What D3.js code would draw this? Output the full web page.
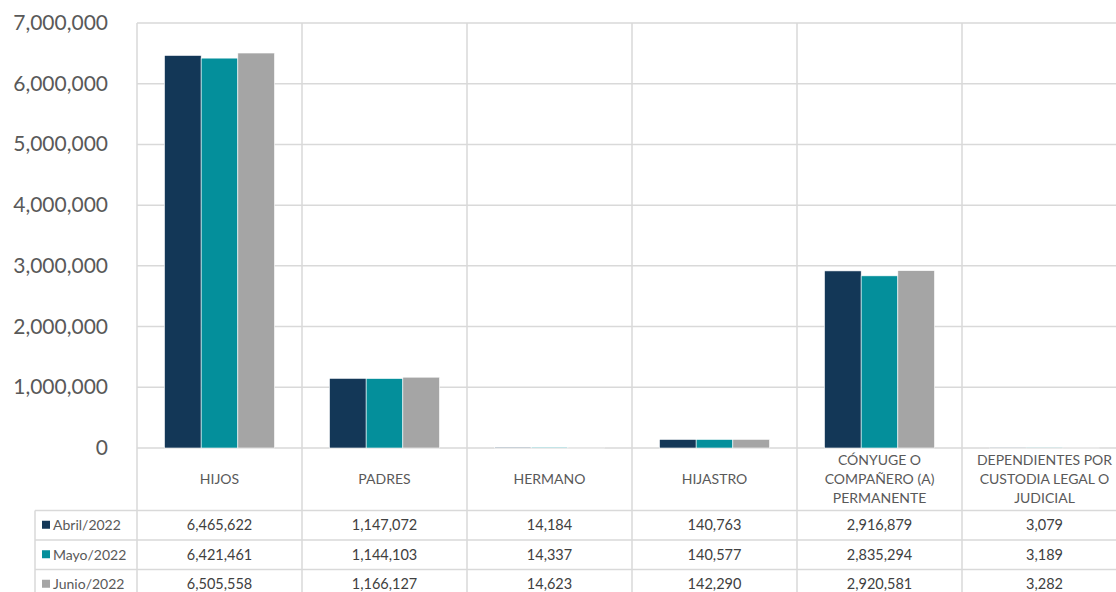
<!DOCTYPE html>
<html>
<head>
<meta charset="utf-8">
<script src="https://cdn.jsdelivr.net/npm/d3@7"></script>
<style>
  html, body { margin: 0; padding: 0; background: #fff; }
  svg { display: block; font-family: Lato, "Open Sans", sans-serif; }
</style>
</head>
<body>
<svg id="chart"></svg>
<script>
const CATEGORIES = ['HIJOS', 'PADRES', 'HERMANO', 'HIJASTRO',
  'CÓNYUGE O COMPAÑERO (A) PERMANENTE', 'DEPENDIENTES POR CUSTODIA LEGAL O JUDICIAL']
const SERIES = ['Abril/2022', 'Mayo/2022', 'Junio/2022']
const ABRIL = [6465622, 1147072, 14184, 140763, 2916879, 3079]
const MAYO = [6421461, 1144103, 14337, 140577, 2835294, 3189]
const JUNIO = [6505558, 1166127, 14623, 142290, 2920581, 3282]
const Y_TICKS = [0, 1000000, 2000000, 3000000, 4000000, 5000000, 6000000, 7000000]
const COLORS = ['#133757', '#048f9b', '#a5a5a5']

const width = 1116, height = 592
const plotLeft = 137, plotTop = 23, plotBottom = 448
const colW = 165
const tableLeft = 35
const labelBottom = 510.5
const rowH = 29.5
const grid = '#d9d9d9'

const values = [ABRIL, MAYO, JUNIO]

const svg = d3.select('#chart').attr('width', width).attr('height', height)

const x0 = d3.scaleBand()
  .domain(CATEGORIES)
  .range([plotLeft, plotLeft + colW * CATEGORIES.length])
  .padding(0)

const x1 = d3.scaleBand()
  .domain(SERIES)
  .range([0, x0.bandwidth()])
  .paddingInner(0)
  .paddingOuter(0.75)

const y = d3.scaleLinear().domain([0, 7000000]).range([plotBottom, plotTop])

// horizontal gridlines
svg.append('g').selectAll('line').data(Y_TICKS).enter().append('line')
  .attr('x1', plotLeft).attr('x2', width + 20)
  .attr('y1', d => y(d)).attr('y2', d => y(d))
  .attr('stroke', grid).attr('stroke-width', 1.5)

// y labels
svg.append('g').selectAll('text').data(Y_TICKS).enter().append('text')
  .attr('x', 108).attr('y', d => y(d) + 7)
  .attr('text-anchor', 'end')
  .attr('font-size', 21)
  .attr('fill', '#595959')
  .text(d => d3.format(',')(d))

// vertical separators (plot + labels + table)
const seps = CATEGORIES.map(c => x0(c)).concat([x0.range()[1]])
svg.append('g').selectAll('line').data(seps).enter().append('line')
  .attr('x1', d => d).attr('x2', d => d)
  .attr('y1', plotTop).attr('y2', height + 10)
  .attr('stroke', grid).attr('stroke-width', 1.5)

// table rows
const rowLines = d3.range(SERIES.length + 1).map(i => labelBottom + i * rowH)
svg.append('g').selectAll('line').data(rowLines).enter().append('line')
  .attr('x1', tableLeft).attr('x2', width + 20)
  .attr('y1', d => d).attr('y2', d => d)
  .attr('stroke', grid).attr('stroke-width', 1.5)
svg.append('line')
  .attr('x1', tableLeft).attr('x2', tableLeft)
  .attr('y1', labelBottom).attr('y2', height + 10)
  .attr('stroke', grid).attr('stroke-width', 1.5)

// bars
const groups = svg.append('g').selectAll('g').data(CATEGORIES).enter().append('g')
  .attr('transform', d => 'translate(' + x0(d) + ',0)')
groups.selectAll('rect')
  .data((c, i) => SERIES.map((s, j) => ({ s: s, v: values[j][i], j: j })))
  .enter().append('rect')
    .attr('x', d => x1(d.s))
    .attr('width', x1.bandwidth())
    .attr('y', d => y(d.v))
    .attr('height', d => y(0) - y(d.v))
    .attr('fill', d => COLORS[d.j])
    .attr('stroke', '#ffffff').attr('stroke-width', 0.6)

// category labels, wrapped
const lineH = 19
const catText = svg.append('g').selectAll('text').data(CATEGORIES).enter().append('text')
  .attr('text-anchor', 'middle')
  .attr('font-size', 14)
  .attr('fill', '#595959')
catText.each(function(d) {
  const t = d3.select(this)
  const words = d.split(' ')
  const lines = []
  let cur = []
  const probe = t.append('tspan')
  for (const w of words) {
    probe.text(cur.concat([w]).join(' '))
    if (cur.length && probe.node().getComputedTextLength() > 138) {
      lines.push(cur.join(' '))
      cur = [w]
    } else {
      cur.push(w)
    }
  }
  lines.push(cur.join(' '))
  probe.remove()
  const cx = x0(d) + x0.bandwidth() / 2
  const startY = 484 - (lines.length - 1) * lineH / 2
  lines.forEach((l, i) => {
    t.append('tspan').attr('x', cx).attr('y', startY + i * lineH).text(l)
  })
})

// table: legend keys + values
SERIES.forEach((s, j) => {
  const rowMid = labelBottom + j * rowH + rowH / 2
  svg.append('rect')
    .attr('x', 42).attr('y', rowMid - 4.5)
    .attr('width', 8).attr('height', 8)
    .attr('fill', COLORS[j])
  svg.append('text')
    .attr('x', 53).attr('y', rowMid + 5)
    .attr('font-size', 14).attr('fill', '#595959')
    .text(s)
  svg.append('g').selectAll('text').data(CATEGORIES).enter().append('text')
    .attr('x', d => x0(d) + x0.bandwidth() / 2)
    .attr('y', rowMid + 5)
    .attr('text-anchor', 'middle')
    .attr('font-size', 14.5).attr('fill', '#404040')
    .text((d, i) => d3.format(',')(values[j][i]))
})
</script>
</body>
</html>
